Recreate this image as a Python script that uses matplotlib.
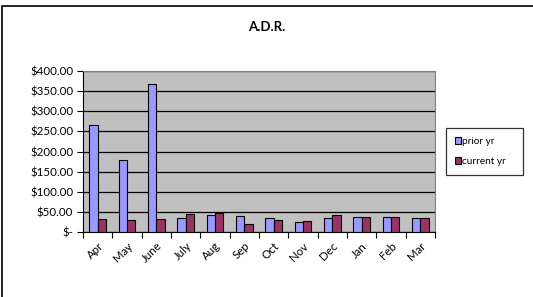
import matplotlib
matplotlib.use("Agg")
import matplotlib.pyplot as plt
import numpy as np
from matplotlib.patches import Rectangle
from matplotlib.ticker import FuncFormatter

months = ["Apr", "May", "June", "July", "Aug", "Sep", "Oct", "Nov", "Dec", "Jan", "Feb", "Mar"]
prior_yr = [267, 178, 368, 34, 41.5, 39, 35, 25, 36, 37, 36.5, 35]
current_yr = [33, 29, 31.5, 44, 46.5, 20, 31, 27, 41, 38, 38, 35]
yticks = [0, 50, 100, 150, 200, 250, 300, 350, 400]

plt.rcParams['font.family'] = ['Lato', 'DejaVu Sans']

fig = plt.figure(figsize=(5.33, 2.97), dpi=100)
W, H = 533, 297
ax = fig.add_axes([83 / W, 1 - 232 / H, 352 / W, 161 / H])

# outer chart border
fig.patches.append(Rectangle((2 / W, -0.05), 1.1, 1 - 6 / H + 0.05, transform=fig.transFigure,
                             fill=False, edgecolor='black', linewidth=1.2))

x = np.arange(len(months))
bw = 0.285
ax.set_facecolor('#C0C0C0')
ax.bar(x - bw / 2, prior_yr, width=bw, color='#9999FF', edgecolor='black', linewidth=0.8,
       label='prior yr', zorder=3)
ax.bar(x + bw / 2, current_yr, width=bw, color='#993366', edgecolor='black', linewidth=0.8,
       label='current yr', zorder=3)

ax.set_xlim(-0.5, len(months) - 0.5)
ax.set_ylim(0, 400)
ax.set_yticks(yticks)
ax.yaxis.set_major_formatter(FuncFormatter(lambda v, p: "$-" if v == 0 else f"${v:,.2f}"))
ax.grid(axis='y', color='black', linewidth=0.9, zorder=1)
ax.set_axisbelow(True)

ax.set_xticks(np.arange(len(months) + 1) - 0.5)
ax.set_xticklabels([])
ax.set_xticks(x, minor=True)
ax.set_xticklabels(months, minor=True, rotation=45, ha='right', rotation_mode='anchor', fontsize=8.3)
ax.tick_params(axis='x', which='minor', length=0, pad=6)
ax.tick_params(axis='x', which='major', length=4, direction='out', width=0.8)
ax.tick_params(axis='y', length=4, direction='out', labelsize=8.3, width=0.8, pad=3)

for s in ['top', 'right']:
    ax.spines[s].set_color('#808080')
for s in ['left', 'bottom']:
    ax.spines[s].set_color('black')

fig.text(267 / W, 1 - 27 / H, "A.D.R.", ha='center', va='center', fontsize=9.5, fontweight='bold')

leg = fig.legend(loc='upper left', bbox_to_anchor=(446 / W, 1 - 175 / H, 77 / W, 47 / H), mode='expand',
                 fontsize=7.2, frameon=True, fancybox=False, edgecolor='black',
                 handlelength=0.6, handleheight=0.6, handletextpad=0.1,
                 labelspacing=1.1, borderpad=0.9, borderaxespad=0)
leg.get_frame().set_linewidth(0.9)

fig.savefig("out.png", dpi=100)
